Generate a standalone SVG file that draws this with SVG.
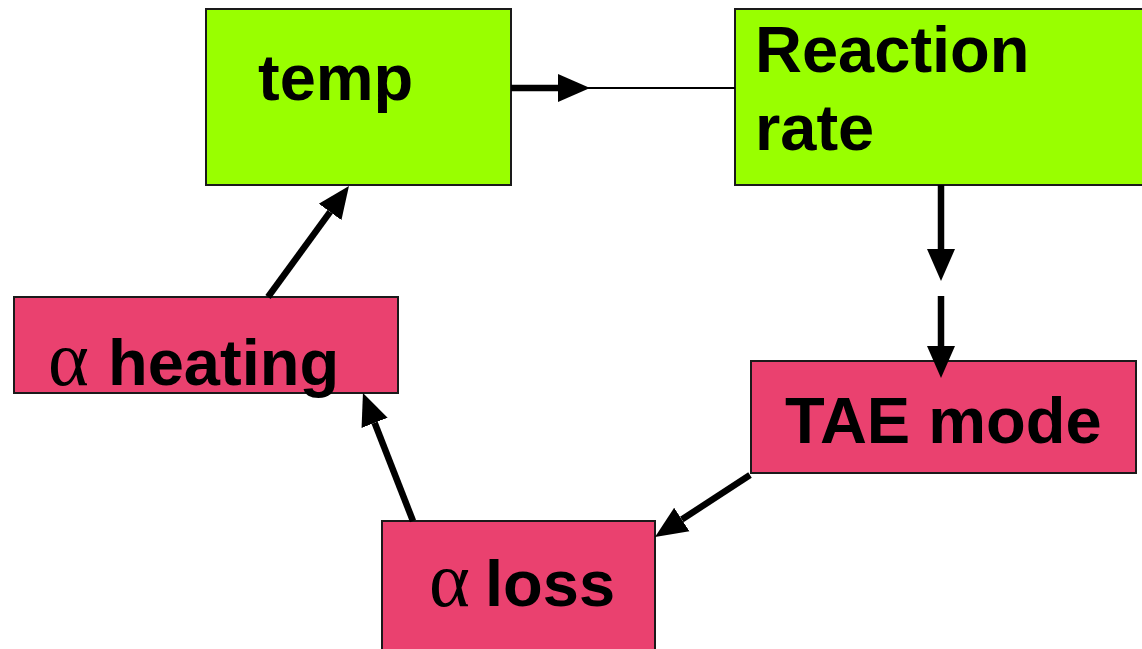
<svg xmlns="http://www.w3.org/2000/svg" width="1142" height="649" viewBox="0 0 1142 649">
  <style>
    .green { fill: #99FF00; stroke: #1a1a1a; stroke-width: 2; }
    .pink { fill: #EA416F; stroke: #1a1a1a; stroke-width: 2; }
    .label { font-family: "Liberation Sans", Arial, sans-serif; font-weight: bold; font-size: 65px; fill: #000; }
    .greek { font-family: "Liberation Serif", "Times New Roman", serif; font-size: 78px; fill: #000; }
    .wire { stroke: #000; stroke-width: 6.5; fill: none; marker-end: url(#head); }
    .thin { stroke: #000; stroke-width: 2; fill: none; }
  </style>
  <defs>
    <marker id="head" markerUnits="userSpaceOnUse" markerWidth="34" markerHeight="30" refX="0" refY="15" orient="auto">
      <path d="M0,1 L32,15 L0,29 Z" fill="#000"/>
    </marker>
  </defs>
  <rect width="1142" height="649" fill="#fff"/>

  <g id="temp">
    <rect class="green" x="206" y="9" width="305" height="176"/>
    <text class="label" x="258" y="100">temp</text>
  </g>
  <g id="reaction-rate">
    <rect class="green" x="735" y="9" width="420" height="176"/>
    <text class="label" x="755" y="72">Reaction</text>
    <text class="label" x="755" y="150">rate</text>
  </g>
  <g id="tae-mode">
    <rect class="pink" x="751" y="361" width="385" height="112"/>
    <text class="label" x="785" y="443">TAE mode</text>
  </g>
  <g id="alpha-loss">
    <rect class="pink" x="382" y="521" width="273" height="140"/>
    <text x="429" y="606"><tspan class="greek">α</tspan><tspan class="label" x="485">loss</tspan></text>
  </g>
  <g id="alpha-heating">
    <rect class="pink" x="14" y="297" width="384" height="96"/>
    <text x="48" y="385"><tspan class="greek">α</tspan><tspan class="label" x="108">heating</tspan></text>
  </g>

  <g id="connectors">
    <line class="thin" x1="560" y1="88" x2="735" y2="88"/>
    <path class="wire" d="M511,88 L558,88"/>
    <path class="wire" d="M941,185 L941,249"/>
    <path class="wire" d="M941,296 L941,346"/>
    <path class="wire" d="M750,475 L681.8,519.5"/>
    <path class="wire" d="M413,521 L374.6,422.8"/>
    <path class="wire" d="M268,297 L330.1,211.9"/>
  </g>
</svg>
